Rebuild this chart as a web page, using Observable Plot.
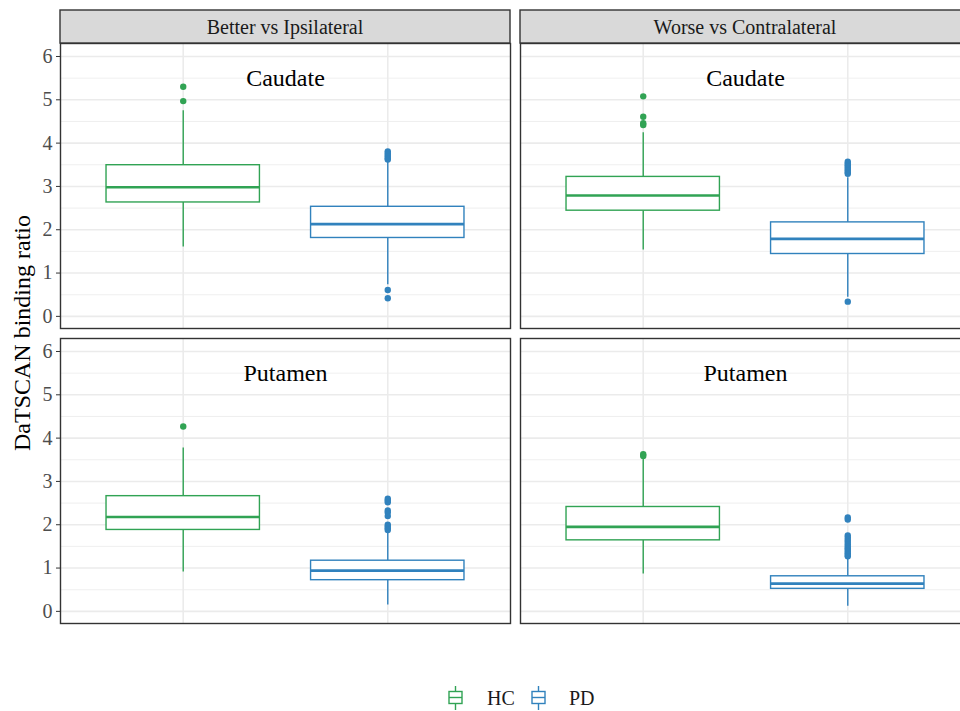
<!DOCTYPE html>
<html><head><meta charset="utf-8">
<script src="https://cdn.jsdelivr.net/npm/d3@7"></script>
<script src="https://cdn.jsdelivr.net/npm/@observablehq/plot@0.6"></script>
<style>
html,body{margin:0;padding:0;background:#fff;overflow:hidden;width:960px;height:711px;}
#chart{position:absolute;left:0;top:0;width:970px;}
#chart svg{max-width:none !important;}
#legend{position:absolute;left:0;top:640px;width:960px;height:71px;font-family:"Liberation Serif","Times New Roman",serif;font-size:20px;color:#1a1a1a;}
#legend .item{position:absolute;}
</style></head><body>
<div id="chart"></div><div id="legend"></div>
<script>
// ---- data ----
const sides = ["Better vs Ipsilateral", "Worse vs Contralateral"];
const regions = ["Caudate", "Putamen"];
const groups = ["HC", "PD"];
const groupColors = ["#31a354", "#3182bd"];
const yTicks = [0, 1, 2, 3, 4, 5, 6];
const yMinorTicks = [0.5, 1.5, 2.5, 3.5, 4.5, 5.5];

// one entry per box
const boxSide   = ["Better vs Ipsilateral","Better vs Ipsilateral","Worse vs Contralateral","Worse vs Contralateral",
                   "Better vs Ipsilateral","Better vs Ipsilateral","Worse vs Contralateral","Worse vs Contralateral"];
const boxRegion = ["Caudate","Caudate","Caudate","Caudate","Putamen","Putamen","Putamen","Putamen"];
const boxGroup  = ["HC","PD","HC","PD","HC","PD","HC","PD"];
const whiskerLow  = [1.60, 0.73, 1.53, 0.44, 0.91, 0.15, 0.86, 0.12];
const q1          = [2.63, 1.81, 2.44, 1.44, 1.88, 0.72, 1.64, 0.52];
const median      = [2.98, 2.13, 2.79, 1.79, 2.18, 0.94, 1.95, 0.64];
const q3          = [3.49, 2.53, 3.22, 2.17, 2.66, 1.17, 2.41, 0.81];
const whiskerHigh = [4.75, 3.58, 4.24, 3.20, 3.77, 1.80, 3.55, 1.22];
const outlierValues = [
  [5.30, 4.97],
  [3.81, 3.77, 3.73, 3.69, 3.65, 3.62, 0.61, 0.42],
  [5.08, 4.61, 4.46, 4.42],
  [3.57, 3.53, 3.49, 3.45, 3.41, 3.37, 3.33, 3.29, 0.34],
  [4.27],
  [2.60, 2.56, 2.52, 2.33, 2.28, 2.20, 2.00, 1.96, 1.92, 1.88],
  [3.63, 3.59],
  [2.17, 2.12, 1.75, 1.70, 1.65, 1.60, 1.55, 1.50, 1.46, 1.42, 1.38, 1.34, 1.30, 1.27]
];
const annotationY = 5.5;
const yTitle = "DaTSCAN binding ratio";

// ---- tables ----
const boxes = boxGroup.map((g, i) => ({
  side: boxSide[i], region: boxRegion[i], group: g,
  lo: whiskerLow[i], q1: q1[i], med: median[i], q3: q3[i], hi: whiskerHigh[i]
}));
const outliers = boxes.flatMap((b, i) => outlierValues[i].map(v => ({side: b.side, region: b.region, group: b.group, value: v})));
const labels = sides.flatMap(s => regions.map(r => ({side: s, region: r, y: annotationY})));

const font = '"Liberation Serif","Times New Roman",serif';
const W = 970, H = 640, mL = 60, mR = 0, mT = 43, mB = 17;

const plot = Plot.plot({
  width: W, height: H,
  marginLeft: mL, marginRight: mR, marginTop: mT, marginBottom: mB,
  style: {fontFamily: font, fontSize: "20px", background: "white", overflow: "visible", maxWidth: "none"},
  fx: {domain: sides, paddingInner: 10 / 460, paddingOuter: 0, round: false, axis: null, label: null},
  fy: {domain: regions, paddingInner: 10 / 295, paddingOuter: 0, round: false, axis: null, label: null},
  x: {domain: groups, paddingInner: 0.25, paddingOuter: 0.225, round: false, axis: null, label: null},
  y: {domain: [-0.28, 6.3], label: null},
  color: {domain: groups, range: groupColors},
  marks: [
    Plot.ruleY(yMinorTicks, {stroke: "#ebebeb", strokeWidth: 0.8}),
    Plot.ruleY(yTicks, {stroke: "#ebebeb", strokeWidth: 1.6}),
    Plot.ruleX(groups, {x: d => d, stroke: "#ebebeb", strokeWidth: 1.6}),
    Plot.ruleX(boxes, {x: "group", y1: "lo", y2: "q1", fx: "side", fy: "region", stroke: "group", strokeWidth: 1.4}),
    Plot.ruleX(boxes, {x: "group", y1: "q3", y2: "hi", fx: "side", fy: "region", stroke: "group", strokeWidth: 1.4}),
    Plot.barY(boxes, {x: "group", y1: "q1", y2: "q3", fx: "side", fy: "region", fill: "white", stroke: "group", strokeWidth: 1.4}),
    Plot.tickY(boxes, {x: "group", y: "med", fx: "side", fy: "region", stroke: "group", strokeWidth: 2.6}),
    Plot.dot(outliers, {x: "group", y: "value", fx: "side", fy: "region", fill: "group", r: 3.2}),
    Plot.text(labels, {y: "y", fx: "side", fy: "region", text: "region", frameAnchor: "middle", fontSize: 24, fill: "black"}),
    Plot.frame({stroke: "#333333", strokeWidth: 1.4}),
    Plot.axisY({ticks: yTicks, tickFormat: d => String(d), tickSize: 4, tickPadding: 4, fontSize: 20,
                stroke: "#333333", fill: "#4d4d4d", label: null})
  ]
});
plot.style.maxWidth = "none";
document.getElementById("chart").appendChild(plot);

// facet strips (top row) using the fx scale
const svg = d3.select(plot);
const fx = plot.scale("fx");
const strips = svg.append("g");
for (const s of sides) {
  const x0 = fx.apply(s);
  strips.append("rect").attr("x", x0).attr("y", mT - 33).attr("width", fx.bandwidth).attr("height", 33)
    .attr("fill", "#d9d9d9").attr("stroke", "#333333").attr("stroke-width", 1.4);
  strips.append("text").attr("x", x0 + fx.bandwidth / 2).attr("y", mT - 16.5)
    .attr("text-anchor", "middle").attr("dominant-baseline", "central")
    .attr("font-family", font).attr("font-size", 20).attr("fill", "#1a1a1a").text(s);
}
// y axis title
svg.append("text").attr("transform", `translate(22,${(mT + H - mB) / 2}) rotate(-90)`)
  .attr("text-anchor", "middle").attr("dominant-baseline", "central")
  .attr("font-family", font).attr("font-size", 24).attr("fill", "black").text(yTitle);

// legend
const legend = d3.select("#legend");
const legendX = [[448, 487], [531, 569]];
groups.forEach((g, i) => {
  const icon = legend.append("svg").attr("class", "item")
    .style("left", legendX[i][0] + "px").style("top", "46px")
    .attr("width", 15).attr("height", 24);
  icon.append("line").attr("x1", 7.5).attr("x2", 7.5).attr("y1", 0).attr("y2", 24).attr("stroke", groupColors[i]).attr("stroke-width", 1.4);
  icon.append("rect").attr("x", 1).attr("y", 5.5).attr("width", 13).attr("height", 12).attr("fill", "white").attr("stroke", groupColors[i]).attr("stroke-width", 1.4);
  icon.append("line").attr("x1", 1).attr("x2", 14).attr("y1", 11.5).attr("y2", 11.5).attr("stroke", groupColors[i]).attr("stroke-width", 1.4);
  legend.append("div").attr("class", "item").style("left", legendX[i][1] + "px").style("top", "46px")
    .style("line-height", "24px").text(g);
});
</script>
</body></html>
